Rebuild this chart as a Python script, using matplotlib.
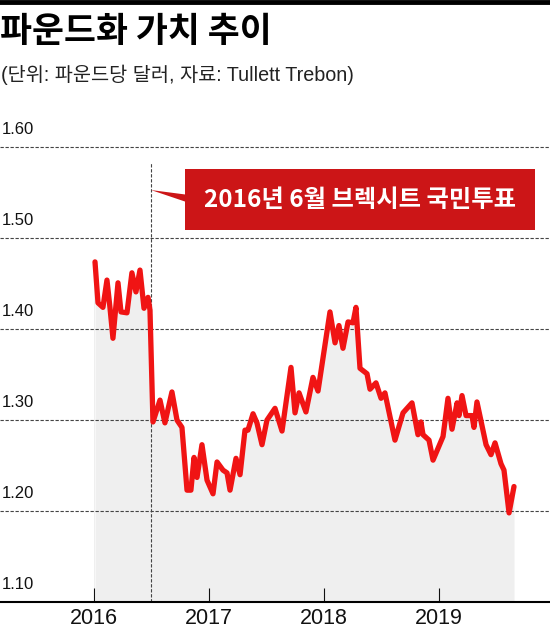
import matplotlib
matplotlib.use("Agg")
import matplotlib.pyplot as plt
from matplotlib.patches import Rectangle, Polygon

# GBP/USD, weekly-ish (decimal year, dollars per pound)
years = [2016.009, 2016.035, 2016.078, 2016.113, 2016.139, 2016.165, 2016.209, 2016.235,
         2016.287, 2016.330, 2016.365, 2016.400, 2016.435, 2016.470, 2016.487, 2016.513,
         2016.574, 2016.617, 2016.678, 2016.722, 2016.765, 2016.809, 2016.843, 2016.870,
         2016.896, 2016.939, 2016.983, 2017.035, 2017.070, 2017.122, 2017.157, 2017.183,
         2017.235, 2017.270, 2017.313, 2017.339, 2017.383, 2017.417, 2017.461, 2017.504,
         2017.574, 2017.635, 2017.713, 2017.748, 2017.783, 2017.843, 2017.904, 2017.948,
         2018.052, 2018.096, 2018.130, 2018.165, 2018.209, 2018.252, 2018.278, 2018.313,
         2018.374, 2018.400, 2018.452, 2018.496, 2018.530, 2018.617, 2018.687, 2018.765,
         2018.817, 2018.843, 2018.861, 2018.913, 2018.948, 2019.035, 2019.078, 2019.113,
         2019.157, 2019.174, 2019.200, 2019.235, 2019.287, 2019.304, 2019.330, 2019.409,
         2019.452, 2019.487, 2019.539, 2019.565, 2019.609, 2019.652]
rates = [1.474, 1.429, 1.424, 1.454, 1.424, 1.390, 1.451, 1.419,
         1.418, 1.462, 1.441, 1.465, 1.423, 1.435, 1.421, 1.298,
         1.322, 1.297, 1.331, 1.300, 1.292, 1.223, 1.223, 1.259,
         1.237, 1.273, 1.234, 1.219, 1.254, 1.245, 1.242, 1.223,
         1.258, 1.240, 1.289, 1.289, 1.307, 1.297, 1.273, 1.300,
         1.313, 1.288, 1.358, 1.308, 1.330, 1.309, 1.347, 1.332,
         1.419, 1.385, 1.404, 1.379, 1.408, 1.407, 1.424, 1.357,
         1.351, 1.334, 1.341, 1.324, 1.330, 1.278, 1.308, 1.319,
         1.284, 1.298, 1.284, 1.278, 1.256, 1.282, 1.324, 1.290,
         1.319, 1.305, 1.327, 1.305, 1.305, 1.292, 1.320, 1.273,
         1.262, 1.275, 1.252, 1.245, 1.198, 1.227]

ytick_vals = [1.10, 1.20, 1.30, 1.40, 1.50, 1.60]
ytick_labels = ["1.10", "1.20", "1.30", "1.40", "1.50", "1.60"]
year_ticks = [2016, 2017, 2018, 2019]
brexit_date = 2016.496
title = "파운드화 가치 추이"
subtitle = "(단위: 파운드당 달러, 자료: Tullett Trebon)"
note = "2016년 6월 브렉시트 국민투표"

KR = ["Noto Sans CJK KR", "DejaVu Sans"]
NUM = ["Liberation Sans", "Noto Sans CJK KR"]

fig = plt.figure(figsize=(5.5, 6.3), dpi=100)
ax = fig.add_axes([0.0, 0.0444, 1.0, 0.7651])
ax.set_xlim(2015.183, 2019.965)
ax.set_ylim(1.10, 1.63)

# top rule
fig.add_artist(plt.Line2D([0, 1], [0.997, 0.997], transform=fig.transFigure,
                          color="black", lw=3.5))
fig.text(0.0, 0.977, title, family=KR, fontsize=25, weight="black",
         ha="left", va="top")
fig.text(0.002, 0.898, subtitle, family=NUM, fontsize=14.2,
         ha="left", va="top", color="#222222")

# grid
for v in ytick_vals[1:]:
    ax.axhline(v, color="#444444", lw=0.8, ls=(0, (3, 1.5)), zorder=1)
for v, lab in zip(ytick_vals, ytick_labels):
    ax.text(0.003, v + 0.011, lab, transform=ax.get_yaxis_transform(),
            family=NUM, fontsize=12, ha="left", va="bottom", color="#111111")

# area and line
ax.fill_between(years, rates, 1.10, color="#efefef", lw=0, zorder=0)
ax.fill_between([2016.0, years[0]], [rates[0], rates[0]], 1.10, color="#efefef", lw=0, zorder=0)
ax.plot([brexit_date, brexit_date], [1.10, 1.584], color="#444444", lw=0.8,
        ls=(0, (3, 1.5)), zorder=2)
ax.plot(years, rates, color="#f01414", lw=3.8, solid_joinstyle="round",
        solid_capstyle="round", zorder=3)

# callout
ax.add_patch(Rectangle((2016.791, 1.509), 3.044, 0.067, facecolor="#cc1517",
                       edgecolor="none", zorder=4))
ax.add_patch(Polygon([(brexit_date, 1.553), (2016.80, 1.548), (2016.80, 1.540)],
                     closed=True, facecolor="#cc1517", edgecolor="none", zorder=4))
ax.text(2018.313, 1.5425, note, family=KR, fontsize=17.5, weight="bold",
        color="white", ha="center", va="center", zorder=5)

# axis
for s in ["top", "right", "left"]:
    ax.spines[s].set_visible(False)
ax.spines["bottom"].set_linewidth(1.5)
ax.spines["bottom"].set_color("black")
ax.set_yticks([])
ax.set_xticks(year_ticks)
ax.set_xticklabels([str(y) for y in year_ticks], family=NUM, fontsize=15.5)
ax.tick_params(axis="x", direction="in", length=10, width=0.8, pad=4, colors="#111111")
ax.set_facecolor("none")

fig.savefig("out.png", dpi=100)
